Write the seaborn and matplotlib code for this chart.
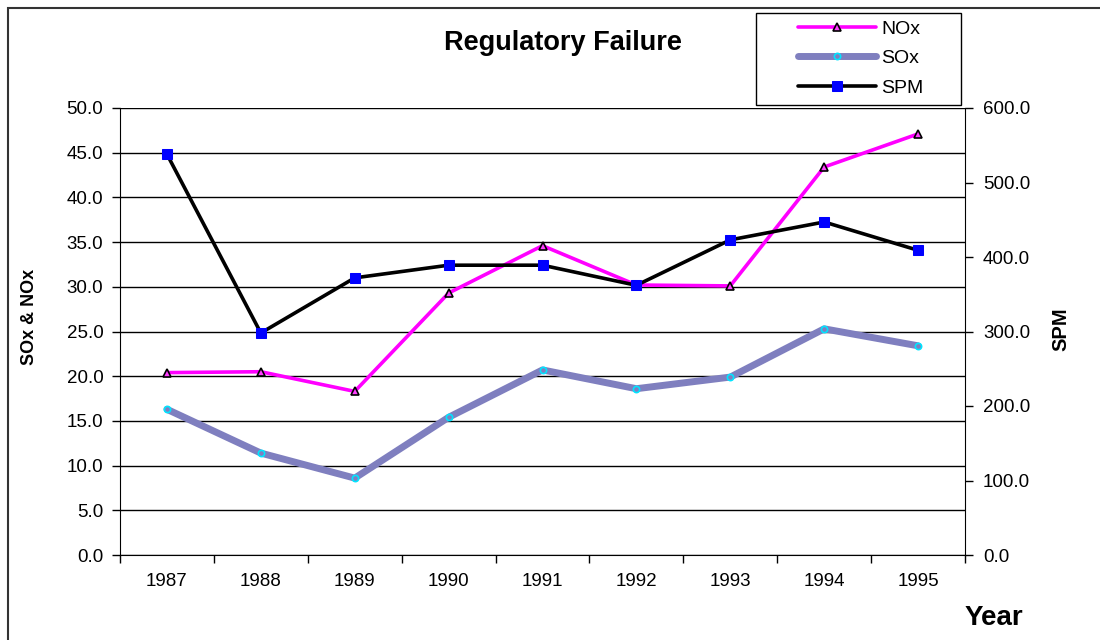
import pandas as pd
import seaborn as sns
import matplotlib.pyplot as plt
from matplotlib.patches import Rectangle
from matplotlib.ticker import MultipleLocator, FixedLocator, NullFormatter

# datos
anios = [1987, 1988, 1989, 1990, 1991, 1992, 1993, 1994, 1995]
nox = [20.4, 20.5, 18.3, 29.3, 34.6, 30.2, 30.1, 43.4, 47.1]
sox = [16.3, 11.4, 8.6, 15.4, 20.7, 18.6, 19.9, 25.3, 23.4]
spm = [538, 298, 372, 389, 389, 362, 423, 447, 409]

datos = pd.DataFrame({'Year': anios, 'NOx': nox, 'SOx': sox, 'SPM': spm})

sns.set_style('white')
plt.rcParams['font.family'] = ['Liberation Sans', 'DejaVu Sans']
plt.rcParams['text.color'] = 'black'
plt.rcParams['xtick.color'] = 'black'
plt.rcParams['ytick.color'] = 'black'

fig = plt.figure(figsize=(11, 6.4), dpi=100)
ax = fig.add_axes([120 / 1100, 1 - 555 / 640, 845 / 1100, 447 / 640])
ax2 = ax.twinx()

sns.lineplot(data=datos, x='Year', y='NOx', ax=ax, color='#FF00FF', lw=2.6,
             marker='^', markersize=6, markerfacecolor='#FF40FF',
             markeredgecolor='black', markeredgewidth=1.2, label='NOx', legend=False)
sns.lineplot(data=datos, x='Year', y='SOx', ax=ax, color='#7F7FBF', lw=5,
             marker='o', markersize=4.5, markerfacecolor='#7F7FBF',
             markeredgecolor='#00E5FF', markeredgewidth=1.2, label='SOx', legend=False)
sns.lineplot(data=datos, x='Year', y='SPM', ax=ax2, color='black', lw=2.6,
             marker='s', markersize=7, markerfacecolor='#0000FF',
             markeredgecolor='#0000FF', label='SPM', legend=False)

# ejes
ax.set_xlim(1986.5, 1995.5)
ax.set_ylim(0, 50)
ax2.set_ylim(0, 600)
ax.yaxis.set_major_locator(MultipleLocator(5))
ax2.yaxis.set_major_locator(MultipleLocator(100))
ax.yaxis.set_major_formatter(lambda v, p: f'{v:.1f}')
ax2.yaxis.set_major_formatter(lambda v, p: f'{v:.1f}')

ax.xaxis.set_major_locator(FixedLocator([a + 0.5 for a in [1986] + anios]))
ax.xaxis.set_major_formatter(NullFormatter())
ax.set_xticks(anios, [str(a) for a in anios], minor=True)

ax.grid(axis='y', color='black', lw=1)
ax.grid(axis='x', visible=False)
ax.set_xlabel('')
ax.set_ylabel('')
ax2.set_ylabel('')

for a in (ax, ax2):
    a.spines['top'].set_visible(False)
    for s in ('bottom', 'left', 'right'):
        a.spines[s].set_color('black')
ax2.spines['left'].set_visible(False)
ax2.spines['bottom'].set_visible(False)
ax.spines['right'].set_visible(False)

ax.tick_params(axis='y', which='major', direction='out', length=6, width=1,
               pad=6, labelsize=13.5, left=True)
ax2.tick_params(axis='y', which='major', direction='out', length=6, width=1,
                pad=7, labelsize=13.5, right=True)
ax.tick_params(axis='x', which='major', direction='out', length=6, width=1,
               bottom=True)
ax.tick_params(axis='x', which='minor', length=0, pad=13, labelsize=13.5)

# textos
fig.text(563 / 1100, 1 - 43 / 640, 'Regulatory Failure', ha='center', va='center',
         fontsize=19.5, fontweight='bold')
fig.text(30 / 1100, 1 - 317 / 640, 'SOx & NOx', rotation=90, ha='center', va='center',
         fontsize=13, fontweight='bold')
fig.text(1061 / 1100, 1 - 329 / 640, 'SPM', rotation=90, ha='center', va='center',
         fontsize=14.5, fontweight='bold')
fig.text(994 / 1100, 1 - 618 / 640, 'Year', ha='center', va='center',
         fontsize=20, fontweight='bold')

# leyenda
h1, l1 = ax.get_legend_handles_labels()
h2, l2 = ax2.get_legend_handles_labels()
fig.patches.append(Rectangle((756 / 1100, 1 - 105 / 640), 205 / 1100, 92 / 640,
                             transform=fig.transFigure, fill=False,
                             edgecolor='black', lw=1))
fig.legend(h1 + h2, l1 + l2, loc='upper left', bbox_to_anchor=(798 / 1100, 1 - 20 / 640),
           frameon=False, fontsize=14, handlelength=4.0, handletextpad=0.3,
           labelspacing=0.62, borderpad=0, borderaxespad=0, numpoints=1)

# marco exterior
fig.patches.append(Rectangle((8 / 1100, -0.05), 1.2, 1.05 - 8 / 640,
                             transform=fig.transFigure, fill=False,
                             edgecolor='#333333', lw=1.5))

plt.savefig('out.png', dpi=100)
